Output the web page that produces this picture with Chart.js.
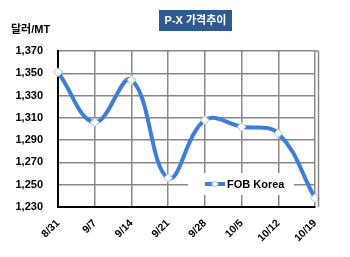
<!DOCTYPE html>
<html>
<head>
<meta charset="utf-8">
<script src="https://cdn.jsdelivr.net/npm/chart.js@4/dist/chart.umd.min.js"></script>
<style>
  html, body { margin: 0; padding: 0; background: #fff; }
  #wrap { width: 350px; height: 257px; position: relative; }
</style>
</head>
<body>
<div id="wrap"><canvas id="graphic-1"></canvas></div>
<script>
const labelsBottom = ['8/31', '9/7', '9/14', '9/21', '9/28', '10/5', '10/12', '10/19'];
const fobKorea = [1351, 1306, 1344, 1256, 1308, 1302, 1296, 1238];
const seriesName = 'FOB Korea';
const chartTitle = 'P-X 가격추이';
const unitLabel = '달러/MT';
const yMin = 1230, yMax = 1370, yStep = 20;

const FONT = '"Liberation Sans", Arial, "Noto Sans CJK KR", sans-serif';
const LINE_COLOR = '#3F7ED6';

// titulo, unidade, borda direita e legenda dentro do grafico
const extras = {
  id: 'extras',
  afterDatasetsDraw(chart) {
    const c = chart.ctx;
    const a = chart.chartArea;
    c.save();
    // borda direita
    c.strokeStyle = '#888';
    c.lineWidth = 1.5;
    c.beginPath();
    c.moveTo(a.right + 3.5, a.top);
    c.lineTo(a.right + 3.5, a.bottom);
    c.moveTo(a.right, a.top);
    c.lineTo(a.right + 3.5, a.top);
    c.stroke();

    // legenda
    c.fillStyle = '#fff';
    c.fillRect(188, 173, 106, 22);
    c.strokeStyle = LINE_COLOR;
    c.lineWidth = 4;
    c.beginPath();
    c.moveTo(205, 184);
    c.lineTo(225, 184);
    c.stroke();
    c.fillStyle = '#fff';
    c.strokeStyle = '#9CBCE8';
    c.lineWidth = 1;
    c.beginPath();
    c.moveTo(215, 180.5); c.lineTo(218.5, 184); c.lineTo(215, 187.5); c.lineTo(211.5, 184);
    c.closePath();
    c.fill(); c.stroke();
    c.fillStyle = '#000';
    c.font = 'bold 11px ' + FONT;
    c.textBaseline = 'middle';
    c.textAlign = 'left';
    c.fillText(seriesName, 227, 184.5);

    // titulo
    c.fillStyle = '#2F5A90';
    c.fillRect(159, 10, 73, 21);
    c.fillStyle = '#fff';
    c.font = 'bold 11px ' + FONT;
    c.textAlign = 'center';
    c.fillText(chartTitle, 195.5, 21);

    // unidade
    c.fillStyle = '#000';
    c.textAlign = 'left';
    c.fillText(unitLabel, 11, 30);
    c.restore();
  }
};

new Chart(document.getElementById('graphic-1'), {
  type: 'line',
  data: {
    labels: labelsBottom,
    datasets: [{
      label: seriesName,
      data: fobKorea,
      borderColor: LINE_COLOR,
      borderWidth: 4,
      tension: 0.4,
      pointStyle: 'rectRot',
      pointRadius: 4.5,
      pointBackgroundColor: '#fff',
      pointBorderColor: '#9CBCE8',
      pointBorderWidth: 1
    }]
  },
  options: {
    responsive: true,
    maintainAspectRatio: false,
    animation: false,
    layout: { padding: { top: 51, right: 35, left: 0, bottom: 0 } },
    plugins: {
      legend: { display: false },
      title: { display: false },
      tooltip: { enabled: false }
    },
    scales: {
      x: {
        afterFit(s) { s.height = 50; s.paddingLeft = 0; s.paddingRight = 0; },
        grid: { color: '#888', lineWidth: 1.5, drawTicks: false },
        border: { color: '#000', width: 2 },
        ticks: {
          color: '#000',
          font: { family: FONT, size: 10.5, weight: 'bold' },
          minRotation: 45,
          maxRotation: 45,
          autoSkip: false,
          padding: 10
        }
      },
      y: {
        min: yMin,
        max: yMax,
        afterFit(s) { s.width = 58; },
        grid: { color: '#888', lineWidth: 1.5, drawTicks: false },
        border: { color: '#000', width: 2 },
        ticks: {
          stepSize: yStep,
          color: '#000',
          font: { family: FONT, size: 11, weight: 'bold' },
          padding: 15,
          callback: v => v.toLocaleString('en-US')
        }
      }
    }
  },
  plugins: [extras]
});
</script>
</body>
</html>
